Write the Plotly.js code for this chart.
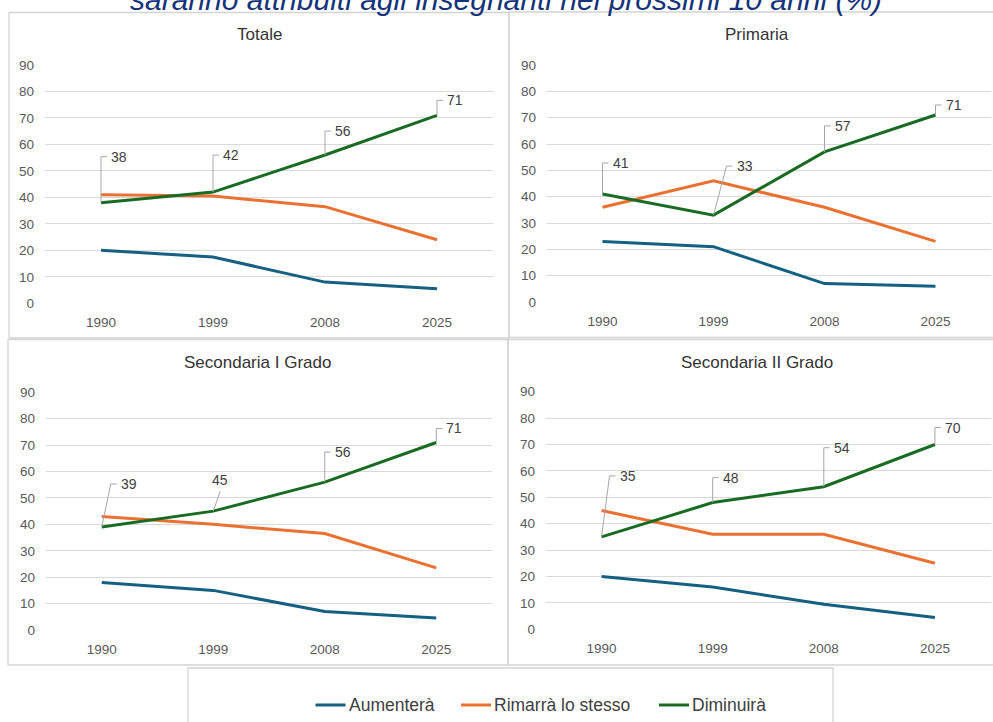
<!DOCTYPE html>
<html><head><meta charset="utf-8">
<script src="https://cdn.plot.ly/plotly-3.0.1.min.js"></script>
<style>html,body{margin:0;padding:0;background:#fff;overflow:hidden}#chart{width:993px;height:722px}</style>
</head><body><div id="chart"></div>
<script>
// ---------- DATA ----------
const years = ['1990', '1999', '2008', '2025'];
const seriesNames = ['Aumenterà', 'Rimarrà lo stesso', 'Diminuirà'];
const panelTitles = ['Totale', 'Primaria', 'Secondaria I Grado', 'Secondaria II Grado'];
const chartTitle = 'saranno attribuiti agli insegnanti nei prossimi 10 anni (%)';

const totaleAumentera = [20, 17.5, 8, 5.5];
const totaleRimarra = [41, 40.5, 36.5, 24];
const totaleDiminuira = [38, 42, 56, 71];

const primariaAumentera = [23, 21, 7, 6];
const primariaRimarra = [36, 46, 36, 23];
const primariaDiminuira = [41, 33, 57, 71];

const sec1Aumentera = [18, 15, 7, 4.5];
const sec1Rimarra = [43, 40, 36.5, 23.5];
const sec1Diminuira = [39, 45, 56, 71];

const sec2Aumentera = [20, 16, 9.5, 4.5];
const sec2Rimarra = [45, 36, 36, 25];
const sec2Diminuira = [35, 48, 54, 70];

const panelData = [
  [totaleAumentera, totaleRimarra, totaleDiminuira],
  [primariaAumentera, primariaRimarra, primariaDiminuira],
  [sec1Aumentera, sec1Rimarra, sec1Diminuira],
  [sec2Aumentera, sec2Rimarra, sec2Diminuira]
];

// ---------- STYLE / LAYOUT ----------
const W = 993, H = 722;
const colors = ['#156082', '#E97132', '#196B24'];
const FONT = 'Liberation Sans, Arial, sans-serif';
const gridColor = '#d9d9d9';
const borderColor = '#d4d4d4';
const leaderColor = '#a6a6a6';

const panels = [
  {x0: 45, x1: 493, yTop: 65, yBot: 303.3, tx: 259, ty: 35, box: [9, 12.5, 509, 338]},
  {x0: 547, x1: 991, yTop: 65, yBot: 302, tx: 757, ty: 35, box: [509, 12, 1005, 337.5]},
  {x0: 46, x1: 492, yTop: 392.3, yBot: 630, tx: 257, ty: 362, box: [8, 339.5, 508, 665]},
  {x0: 546, x1: 990.5, yTop: 391.7, yBot: 629.3, tx: 757, ty: 362, box: [508, 339.5, 1005, 665]}
];

// leader line offsets (pixels, dy up) for the labels of the "Diminuirà" series
const leaders = [
  [{dx: 0, dy: 46}, {dx: 0, dy: 37}, {dx: 0, dy: 24}, {dx: 0, dy: 15}],
  [{dx: 0, dy: 31}, {dx: 13, dy: 49}, {dx: 0, dy: 26}, {dx: 0, dy: 10}],
  [{dx: 9, dy: 43}, {dx: 7, dy: 20, above: true}, {dx: 0, dy: 30}, {dx: 0, dy: 14}],
  [{dx: 8, dy: 61}, {dx: 0, dy: 25}, {dx: 0, dy: 39}, {dx: 0, dy: 17}]
];

// manual legend item positions (px)
const legendPos = [{x: 315.5, y: 705}, {x: 461, y: 705}, {x: 659, y: 705}];

const traces = [];
const layout = {
  width: W, height: H,
  margin: {l: 0, r: 0, t: 0, b: 0},
  paper_bgcolor: '#ffffff',
  plot_bgcolor: 'rgba(0,0,0,0)',
  font: {family: FONT, color: '#595959'},
  showlegend: false,
  shapes: [],
  annotations: []
};

panels.forEach((p, i) => {
  const n = i + 1;
  const xk = n === 1 ? 'xaxis' : 'xaxis' + n;
  const yk = n === 1 ? 'yaxis' : 'yaxis' + n;
  const xRef = n === 1 ? 'x' : 'x' + n;
  const yRef = n === 1 ? 'y' : 'y' + n;
  layout[xk] = {
    domain: [p.x0 / W, p.x1 / W], anchor: yRef, type: 'category',
    categoryorder: 'array', categoryarray: years, range: [-0.5, years.length - 0.5],
    showgrid: false, zeroline: false, showline: false, ticks: '',
    tickfont: {size: 13.5, color: '#595959', family: FONT}, ticklabelstandoff: 9,
    fixedrange: true
  };
  layout[yk] = {
    domain: [1 - p.yBot / H, 1 - p.yTop / H], anchor: xRef, range: [0, 90], dtick: 10,
    showgrid: true, gridcolor: gridColor, gridwidth: 1, zeroline: false, showline: false, ticks: '',
    tickfont: {size: 13.5, color: '#595959', family: FONT}, ticklabelstandoff: 10,
    fixedrange: true
  };
  panelData[i].forEach((vals, s) => {
    traces.push({
      type: 'scatter', mode: 'lines', x: years, y: vals, name: seriesNames[s],
      xaxis: xRef, yaxis: yRef, line: {color: colors[s], width: 3},
      showlegend: false, hoverinfo: 'skip'
    });
  });
  // panel border
  layout.shapes.push({
    type: 'rect', xref: 'paper', yref: 'paper',
    x0: p.box[0] / W, x1: p.box[2] / W, y0: 1 - p.box[3] / H, y1: 1 - p.box[1] / H,
    line: {color: borderColor, width: 1.3}, fillcolor: 'rgba(0,0,0,0)', layer: 'below'
  });
  // panel title
  layout.annotations.push({
    xref: 'paper', yref: 'paper', x: p.tx / W, y: 1 - p.ty / H, xanchor: 'center', yanchor: 'middle',
    text: panelTitles[i], showarrow: false, font: {size: 17, color: '#333333', family: FONT}
  });
  // data labels for the "Diminuirà" series (x given as category index)
  const dim = panelData[i][2];
  years.forEach((year, k) => {
    const L = leaders[i][k];
    const path = L.above
      ? `M0,0 L${L.dx},${L.dy}`
      : `M0,0 L${L.dx},${L.dy} L${L.dx + 6},${L.dy}`;
    layout.shapes.push({
      type: 'path', xref: xRef, yref: yRef, xsizemode: 'pixel', ysizemode: 'pixel',
      xanchor: k, yanchor: dim[k], path: path, line: {color: leaderColor, width: 1}
    });
    layout.annotations.push(L.above ? {
      xref: xRef, yref: yRef, x: k, y: dim[k], text: String(dim[k]), showarrow: false,
      xanchor: 'center', yanchor: 'bottom', xshift: L.dx, yshift: L.dy + 1,
      font: {size: 14, color: '#404040', family: FONT}
    } : {
      xref: xRef, yref: yRef, x: k, y: dim[k], text: String(dim[k]), showarrow: false,
      xanchor: 'left', yanchor: 'middle', xshift: L.dx + 8, yshift: L.dy,
      font: {size: 14, color: '#404040', family: FONT}
    });
  });
});

// legend box
layout.shapes.push({
  type: 'rect', xref: 'paper', yref: 'paper',
  x0: 188 / W, x1: 833 / W, y0: -0.05, y1: 1 - 668 / H,
  line: {color: borderColor, width: 1.3}, fillcolor: 'rgba(0,0,0,0)', layer: 'below'
});
// legend items
seriesNames.forEach((name, s) => {
  const lp = legendPos[s];
  layout.shapes.push({
    type: 'line', xref: 'paper', yref: 'paper',
    x0: lp.x / W, x1: (lp.x + 30) / W, y0: 1 - lp.y / H, y1: 1 - lp.y / H,
    line: {color: colors[s], width: 3}
  });
  layout.annotations.push({
    xref: 'paper', yref: 'paper', x: (lp.x + 31) / W, y: 1 - lp.y / H, xanchor: 'left', yanchor: 'middle',
    text: name, showarrow: false, font: {size: 17.5, color: '#404040', family: FONT}
  });
});

// cropped main title at top
layout.annotations.push({
  xref: 'paper', yref: 'paper', x: 506 / W, y: 1, xanchor: 'center', yanchor: 'middle', yshift: 1,
  text: chartTitle, showarrow: false,
  font: {size: 30, color: '#14337a', family: FONT, style: 'italic'}
});

Plotly.newPlot('chart', traces, layout, {displayModeBar: false, staticPlot: true});
</script>
</body></html>
